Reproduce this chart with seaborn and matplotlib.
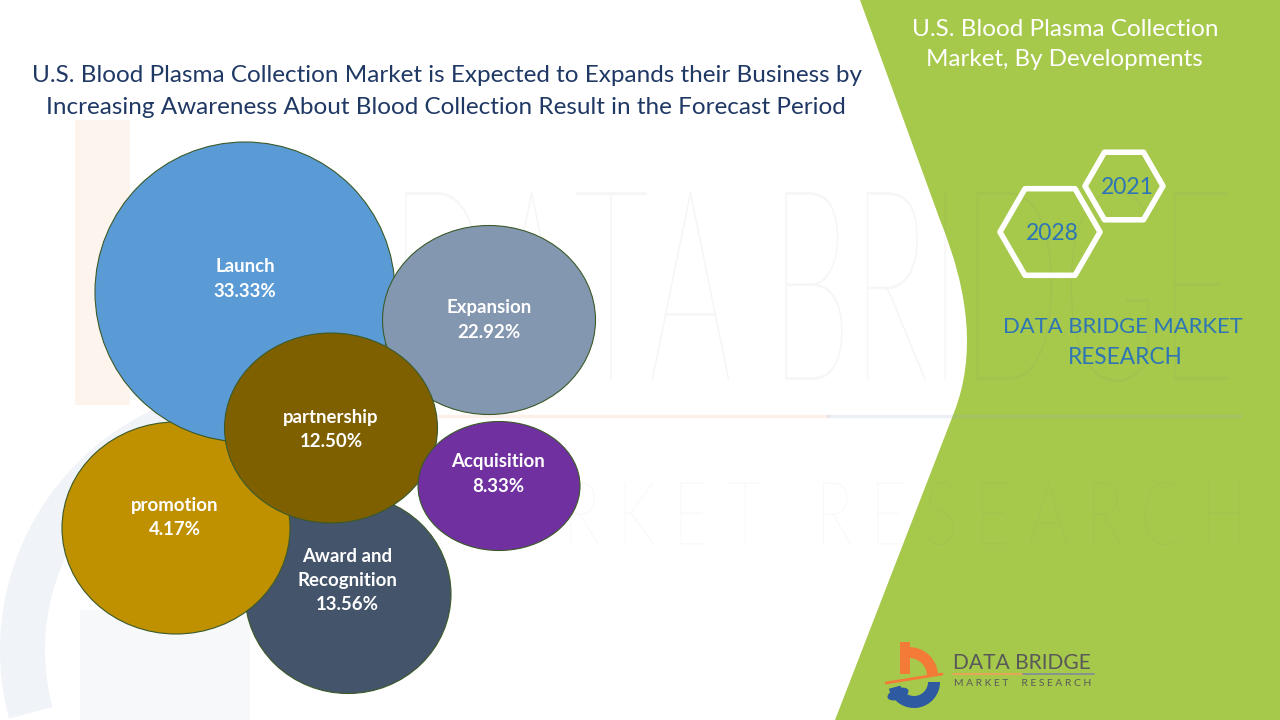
import numpy as np
import matplotlib
matplotlib.use("Agg")
import matplotlib.pyplot as plt
import seaborn as sns
from matplotlib.patches import Ellipse, Polygon, PathPatch, Rectangle, Wedge
from matplotlib.path import Path
from matplotlib.textpath import TextPath
from matplotlib.font_manager import FontProperties
from matplotlib.transforms import Affine2D

# ---------------- data ----------------
categories = ["Award and\nRecognition", "promotion", "Launch", "Expansion", "partnership", "Acquisition"]
shares = [13.56, 4.17, 33.33, 22.92, 12.50, 8.33]
colors = ["#44546A", "#BF9000", "#5B9BD5", "#8497B0", "#7F6000", "#7030A0"]

# layout of the bubbles (pixel space, y down)
bubble_cx = [348, 176, 245, 489, 331, 499]
bubble_cy = [594, 528, 292, 320, 428, 486]
bubble_w = [206, 228, 300, 213, 213, 162]
bubble_h = [199, 212, 300, 189, 190, 129]
label_x = [347, 175, 245, 489, 331, 498]
label_y = [556, 505, 267, 308, 417, 462]

title = ["U.S. Blood Plasma Collection Market is Expected to Expands their Business by",
         "Increasing Awareness About Blood Collection Result in the Forecast Period"]
side_title = ["U.S. Blood Plasma Collection", "Market, By Developments"]
years = ["2021", "2028"]
brand = ["DATA BRIDGE MARKET", "RESEARCH"]

sns.set_theme(style="white")
plt.rcParams['font.family'] = ['Lato', 'DejaVu Sans']

fig = plt.figure(figsize=(12.8, 7.2), dpi=100)
ax = fig.add_axes([0, 0, 1, 1])
ax.set_xlim(0, 1280)
ax.set_ylim(720, 0)
ax.axis("off")
fig.patch.set_facecolor("white")
renderer = fig.canvas.get_renderer()


def fit_text(x, y, s, width, size=20, **kw):
    t = ax.text(x, y, s, fontsize=size, **kw)
    bb = t.get_window_extent(renderer)
    t.set_fontsize(size * width / bb.width)
    return t


def path_text(s, x0, y0, x1, y1, prop, **kw):
    tp = TextPath((0, 0), s, size=1, prop=prop)
    ext = tp.get_extents()
    sx = (x1 - x0) / ext.width
    sy = (y1 - y0) / ext.height
    tr = Affine2D().translate(-ext.x0, -ext.y1).scale(sx, -sy).translate(x0, y0)
    p = PathPatch(tr.transform_path(tp), **kw)
    ax.add_patch(p)
    return p

# ---------------- green side panel ----------------
verts = [(860, 0), (940, 220), (985, 330), (955, 410), (835, 720), (1280, 720), (1280, 0), (860, 0)]
codes = [Path.MOVETO, Path.LINETO, Path.CURVE3, Path.CURVE3, Path.LINETO, Path.LINETO, Path.LINETO, Path.CLOSEPOLY]
ax.add_patch(PathPatch(Path(verts, codes), facecolor="#A6C84B", edgecolor="none", zorder=1))

# ---------------- faint watermark ----------------
wm = FontProperties(family="Lato", weight="light")
path_text("DATA BRIDGE", 405, 190, 1228, 382, wm, facecolor="#808080", edgecolor="none", alpha=0.07, zorder=2)
path_text("M A R K E T   R E S E A R C H", 440, 482, 1240, 545, wm, facecolor="#808080", edgecolor="none", alpha=0.07, zorder=2)
ax.plot([420, 828], [416, 416], color="#f3c9ad", lw=2.5, alpha=0.25, zorder=2)
ax.plot([828, 1240], [416, 416], color="#9aa9c4", lw=2.5, alpha=0.18, zorder=2)
ax.add_patch(Rectangle((75, 120), 55, 285, facecolor="#fbe1d0", edgecolor="none", alpha=0.35, zorder=2))
ax.add_patch(Wedge((265, 650), 265, 165, 260, width=45, facecolor="#d5dde9", edgecolor="none", alpha=0.35, zorder=2))
ax.add_patch(Rectangle((80, 610), 170, 110, facecolor="#e3e8f0", edgecolor="none", alpha=0.3, zorder=2))

# ---------------- bubbles ----------------
for i, (cat, val) in enumerate(zip(categories, shares)):
    ax.add_patch(Ellipse((bubble_cx[i], bubble_cy[i]), bubble_w[i], bubble_h[i],
                         facecolor=colors[i], edgecolor="#3B5A2A", lw=0.8, zorder=5 + i))

t = ax.text(0, 0, "partnership", fontsize=14, fontweight="bold")
lab_size = 14 * 96 / t.get_window_extent(renderer).width
t.remove()
for i, (cat, val) in enumerate(zip(categories, shares)):
    lines = cat.split("\n") + [f"{val:.2f}%"]
    for k, line in enumerate(lines):
        ax.text(label_x[i], label_y[i] + 24.5 * k, line, ha="center", va="center", color="white",
                fontsize=lab_size, fontweight="bold", zorder=20)

# ---------------- titles ----------------
fit_text(447, 76, title[0], 832, ha="center", va="center", color="#1F3864", zorder=20)
fit_text(446, 107, title[1], 802, ha="center", va="center", color="#1F3864", zorder=20)
fit_text(1065, 29, side_title[0], 306, ha="center", va="center", color="white", zorder=20)
fit_text(1064, 60, side_title[1], 278, ha="center", va="center", color="white", zorder=20)

# ---------------- hexagons ----------------
def hexagon(cx, cy, r):
    ang = np.deg2rad(np.arange(0, 360, 60))
    pts = np.column_stack([cx + r * np.cos(ang), cy + r * np.sin(ang)])
    ax.add_patch(Polygon(pts, closed=True, facecolor="none", edgecolor="white", lw=4,
                         joinstyle="round", zorder=10))

hexagon(1124, 186, 39)
hexagon(1050, 232, 50)
fit_text(1127, 187, years[0], 53, ha="center", va="center", color="#2E75B6", zorder=20)
fit_text(1052, 233, years[1], 53, ha="center", va="center", color="#2E75B6", zorder=20)
fit_text(1123, 327, brand[0], 240, ha="center", va="center", color="#2E75B6", zorder=20)
fit_text(1125, 358, brand[1], 114, ha="center", va="center", color="#2E75B6", zorder=20)

# ---------------- bottom-right logo ----------------
orange, blue = "#F47B37", "#2D5AA0"
ax.add_patch(Rectangle((900, 642), 10, 32, facecolor=orange, edgecolor="none", zorder=12))
ax.add_patch(Wedge((909, 676), 29, 268, 360, width=11, facecolor=orange, edgecolor="none", zorder=12))
ax.plot([886, 942], [683, 674], color=orange, lw=2, solid_capstyle="round", zorder=12)
ax.add_patch(Wedge((914, 682), 26, 0, 165, width=12, facecolor=blue, edgecolor="none", zorder=12))
ax.add_patch(Ellipse((898, 694), 22, 11, angle=-20, facecolor=blue, edgecolor="none", zorder=12))
fit_text(1022, 663, "DATA BRIDGE", 138, ha="center", va="center", color="#595959", zorder=20)
ax.plot([953, 1023], [674, 674], color="#F4A05A", lw=1.2, zorder=20)
ax.plot([1023, 1094], [674, 674], color="#7f8a9a", lw=1.2, zorder=20)
fit_text(1023, 684, "M A R K E T     R E S E A R C H", 138, ha="center", va="center",
         color="#595959", zorder=20)

fig.savefig("out.png", dpi=100, facecolor="white")
